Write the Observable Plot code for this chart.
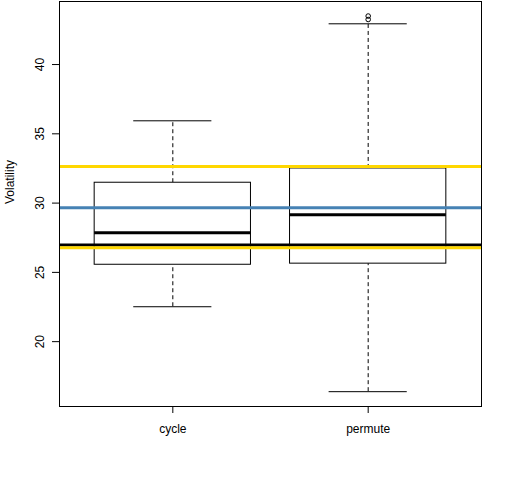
<!DOCTYPE html>
<html>
<head>
<meta charset="utf-8">
<script src="https://cdn.jsdelivr.net/npm/d3@7"></script>
<script src="https://cdn.jsdelivr.net/npm/@observablehq/plot@0.6"></script>
<style>
  body { margin: 0; background: #fff; }
  svg { font-family: "Liberation Sans", Arial, sans-serif; }
</style>
</head>
<body>
<div id="chart"></div>
<script>
const categories = ["cycle", "permute"];
const whiskerLow  = [22.52, 16.39];
const q1          = [25.55, 25.63];
const median      = [27.86, 29.16];
const q3          = [31.47, 32.50];
const whiskerHigh = [35.94, 42.94];
const outliers = [
  { group: 2, value: 43.25 },
  { group: 2, value: 43.50 }
];
const refLines = [
  { value: 32.64, color: "#FFD700" },
  { value: 29.66, color: "#4682B4" },
  { value: 26.97, color: "#000000" },
  { value: 26.78, color: "#FFD700" }
];
const yTicks = [20, 25, 30, 35, 40];

const boxes = categories.map((c, i) => ({
  name: c, pos: i + 1,
  lo: whiskerLow[i], q1: q1[i], med: median[i], q3: q3[i], hi: whiskerHigh[i]
}));

const chart = Plot.plot({
  width: 512,
  height: 480,
  marginLeft: 59,
  marginRight: 31,
  marginTop: 1,
  marginBottom: 74,
  style: { fontSize: "12px", fontFamily: "Liberation Sans, Arial, sans-serif", color: "#000" },
  x: { type: "linear", domain: [0.42, 2.58] },
  y: { domain: [15.32, 44.55] },
  marks: [
    Plot.ruleX(boxes, { x: "pos", y1: "q3", y2: "hi", stroke: "#000", strokeDasharray: "4,3", strokeWidth: 1 }),
    Plot.ruleX(boxes, { x: "pos", y1: "lo", y2: "q1", stroke: "#000", strokeDasharray: "4,3", strokeWidth: 1 }),
    Plot.ruleY(boxes, { y: "hi", x1: d => d.pos - 0.2, x2: d => d.pos + 0.2, stroke: "#000", strokeWidth: 1 }),
    Plot.ruleY(boxes, { y: "lo", x1: d => d.pos - 0.2, x2: d => d.pos + 0.2, stroke: "#000", strokeWidth: 1 }),
    Plot.rect(boxes, { x1: d => d.pos - 0.4, x2: d => d.pos + 0.4, y1: "q1", y2: "q3", fill: "white", stroke: "#000", strokeWidth: 1 }),
    Plot.ruleY(boxes, { y: "med", x1: d => d.pos - 0.4, x2: d => d.pos + 0.4, stroke: "#000", strokeWidth: 3 }),
    Plot.dot(outliers, { x: "group", y: "value", r: 2.3, stroke: "#000", fill: "none", strokeWidth: 1 }),
    Plot.ruleY(refLines, { y: "value", stroke: "color", strokeWidth: 3 }),
    Plot.frame({ stroke: "#000", strokeWidth: 1 }),
    Plot.axisY({ ticks: yTicks, tickSize: 7, tickPadding: 9, tickRotate: -90, label: null, fill: "#000" }),
    Plot.axisX({ ticks: [1, 2], tickSize: 7, tickPadding: 11, tickFormat: d => categories[d - 1], label: null, fill: "#000" }),
    Plot.text(["Volatility"], { frameAnchor: "left", dx: -49, rotate: -90, text: d => d, fill: "#000", fontSize: 12 })
  ]
});
document.getElementById("chart").appendChild(chart);
</script>
</body>
</html>
